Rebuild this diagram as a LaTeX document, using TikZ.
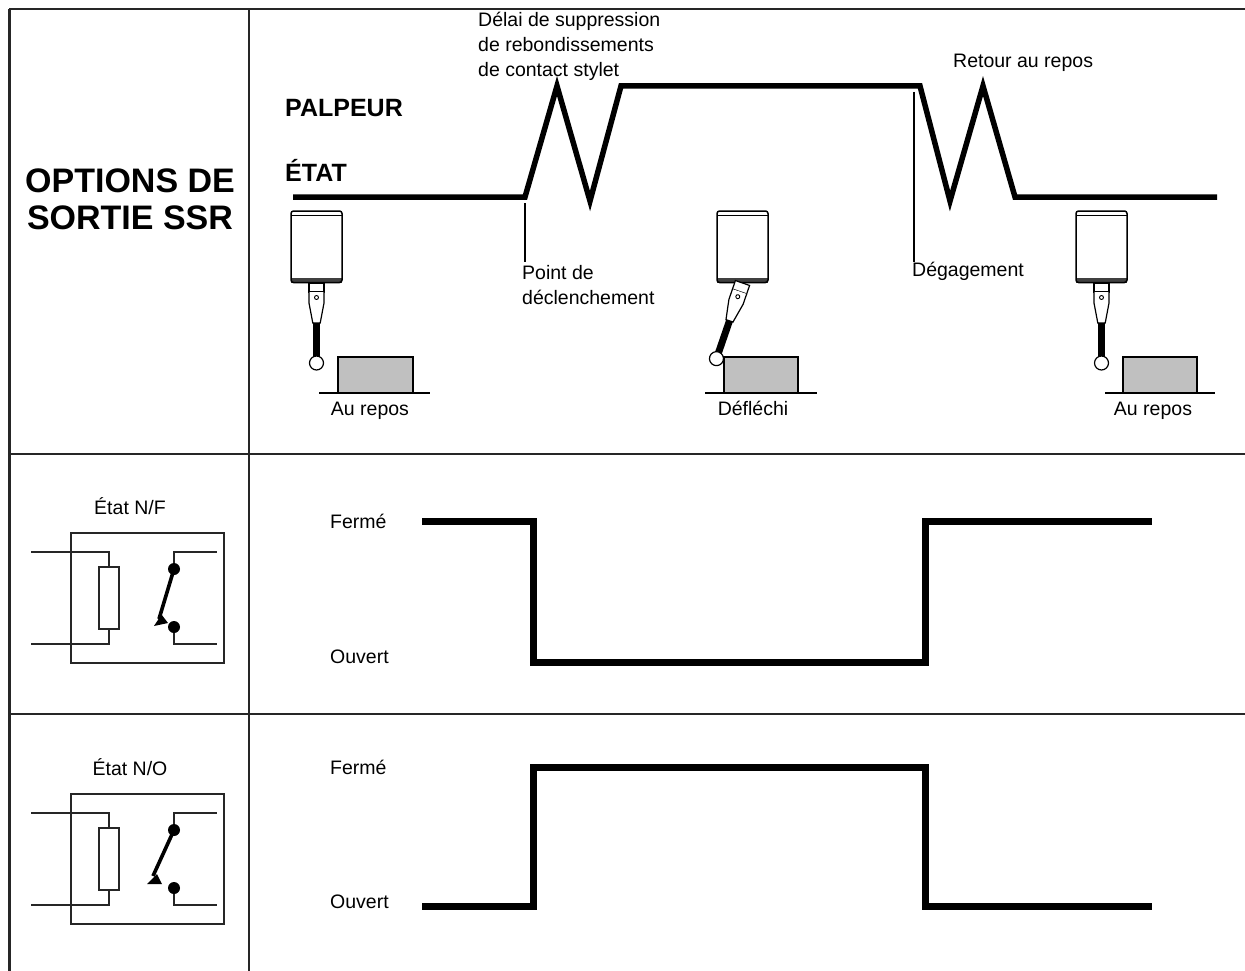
\documentclass[tikz,border=0pt]{standalone}
\usepackage{fontspec}
\setmainfont{Liberation Sans}
\begin{document}
\begin{tikzpicture}[x=1pt,y=-1pt,
  lbl/.style={font=\fontsize{19.5}{24}\selectfont, inner sep=0pt},
  blbl/.style={font=\fontsize{25}{30}\selectfont\bfseries, inner sep=0pt},
  grid/.style={line width=2.4pt, draw=black!85},
  wave/.style={line width=5.5pt, line join=miter, miter limit=10},
  sigwave/.style={line width=7pt, line join=miter},
  marker/.style={line width=1.2pt},
  relay/.style={line width=2.2pt, draw=black!85},
  blade/.style={line width=3.6pt},
  work/.style={draw=black, line width=1.5pt, fill={rgb,255:red,192;green,192;blue,192}},
  probebody/.pic={
    \fill[black!75] (-25.5,66.5) rectangle (25.5,71.5);
    \draw[line width=1.5pt, rounded corners=2.5pt] (-25.5,0) rectangle (25.5,71.5);
    \draw[line width=1pt] (-25.5,4.5) -- (25.5,4.5);
  },
  probestem/.pic={
    \draw[line width=1.2pt, fill=white] (-7.5,0) rectangle (7.5,9);
    \draw[line width=1.2pt, fill=white] (-7.5,9) -- (-7.5,20) -- (-3.7,40) -- (3.7,40) -- (7.5,20) -- (7.5,9);
    \draw[line width=0.9pt] (0,14.5) circle (2);
    \fill[black] (-3.5,40) rectangle (3.5,74);
    \draw[line width=1.2pt, fill=white] (0,80) circle (7);
  },
  relaybox/.pic={
    \draw[relay] (0,0) rectangle (153,130);
    \draw[relay] (-40,19) -- (38,19) -- (38,34);
    \draw[relay] (28,34) rectangle (48,96);
    \draw[relay] (38,96) -- (38,111) -- (-40,111);
    \draw[relay] (103,36) -- (103,19) -- (146,19);
    \draw[relay] (103,94) -- (103,111) -- (146,111);
    \fill (103,36) circle (6);
    \fill (103,94) circle (6);
  }
]
\useasboundingbox (0,0) rectangle (1245,971);

% frame
\draw[grid] (9,9) -- (1245,9);
\draw[grid, line width=3pt] (9,9) -- (9,971);
\draw[grid] (249,9) -- (249,971);
\draw[grid] (9,454) -- (1245,454);
\draw[grid] (9,714) -- (1245,714);

% left column title
\node[font=\fontsize{34}{36}\selectfont\bfseries, inner sep=0pt, anchor=base] (t1) at (130,193) {OPTIONS DE};
\node[font=\fontsize{34}{36}\selectfont\bfseries, inner sep=0pt, anchor=base] (t2) at (130,229) {SORTIE SSR};

% top row labels
\node[blbl, anchor=base west] (palpeur) at (285,117) {PALPEUR};
\node[blbl, anchor=base west] (etat) at (285,182) {ÉTAT};
\node[lbl, anchor=base west] (d1) at (478,27) {Délai de suppression};
\node[lbl, anchor=base west] (d2) at (478,52) {de rebondissements};
\node[lbl, anchor=base west] (d3) at (478,77) {de contact stylet};
\node[lbl, anchor=base west] (ret) at (953,68) {Retour au repos};
\node[lbl, anchor=base west] (pt1) at (522,279) {Point de};
\node[lbl, anchor=base west] (pt2) at (522,304) {déclenchement};
\node[lbl, anchor=base west] (deg) at (912,276) {Dégagement};

% top waveform
\draw[wave] (293,197) -- (525,197) -- (557,86) -- (590,201) -- (621,86) -- (920,86)
  -- (950,201) -- (983,86) -- (1015,197) -- (1217,197);
\draw[marker] (525,203) -- (525,262);
\draw[marker] (914,92) -- (914,262);

% probes
\pic at (316.5,211) {probebody};
\pic at (316.5,283) {probestem};
\draw[work] (338,357) rectangle (413,393);
\draw[line width=1.5pt] (319,393) -- (430,393);
\node[lbl, anchor=base] (r1) at (370,415) {Au repos};

\pic at (742.5,211) {probebody};
\pic[rotate=-19] at (742.5,283) {probestem};
\draw[work] (724,357) rectangle (798,393);
\draw[line width=1.5pt] (705,393) -- (817,393);
\node[lbl, anchor=base] (r2) at (753,415) {Défléchi};

\pic at (1101.5,211) {probebody};
\pic at (1101.5,283) {probestem};
\draw[work] (1123,357) rectangle (1197,393);
\draw[line width=1.5pt] (1105,393) -- (1215,393);
\node[lbl, anchor=base] (r3) at (1153,415) {Au repos};

% relays
\node[lbl] (nf) at (130,506) {État N/F};
\pic at (71,533) {relaybox};
\draw[blade] (174,569) -- (159,619);
\fill (154,626) -- (168,623) -- (161.5,614.5) -- cycle;

\node[lbl] (no) at (130,767) {État N/O};
\pic at (71,794) {relaybox};
\draw[blade] (174,830) -- (153,876);
\fill (147,884) -- (162,884) -- (157,874) -- cycle;

% signal rows
\node[lbl, anchor=base west] (f1) at (330,528) {Fermé};
\node[lbl, anchor=base west] (o1) at (330,663) {Ouvert};
\draw[sigwave] (422,521) -- (533,521) -- (533,662) -- (925,662) -- (925,521) -- (1152,521);

\node[lbl, anchor=base west] (f2) at (330,774) {Fermé};
\node[lbl, anchor=base west] (o2) at (330,908) {Ouvert};
\draw[sigwave] (422,906) -- (533,906) -- (533,767) -- (925,767) -- (925,906) -- (1152,906);
\end{tikzpicture}
\end{document}
